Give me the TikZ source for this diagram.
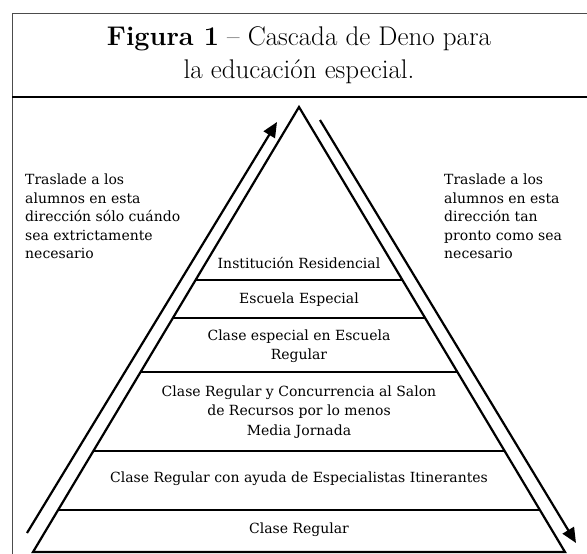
\documentclass[tikz,border=0pt]{standalone}
\usepackage{fontspec}
\newfontfamily\labelfont{DejaVu Serif}
\usetikzlibrary{arrows.meta, calc}

\begin{document}
\begin{tikzpicture}[x=1pt, y=-1pt,
  level/.style={font=\labelfont\fontsize{14}{19.5}\selectfont, align=center, inner sep=0pt},
  side/.style={font=\labelfont\fontsize{14}{18.5}\selectfont, align=left, anchor=north west, inner sep=0pt},
  edge/.style={line width=2.2pt},
  move/.style={line width=2.2pt, -{Triangle[length=15pt, width=13pt]}}]
\useasboundingbox (0,0) rectangle (587,554);

% frame and title
\draw[gray!60!black, line width=1pt] (12,554) -- (12,13) -- (587,13);
\draw[line width=1.4pt] (12,97) -- (587,97);
\node[font=\fontsize{27}{33}\selectfont, align=center, inner sep=0pt] (title) at (299,55)
  {\textbf{Figura 1} -- Cascada de Deno para\\la educación especial.};

% pyramid
\coordinate (apex) at (299,107);
\coordinate (bl) at (33,552);
\coordinate (br) at (565,552);
\draw[edge] (bl) -- (apex) -- (br) -- cycle;
\foreach \t in {0.389, 0.474, 0.596, 0.773, 0.906}
  \draw[edge] ($(apex)!\t!(bl)$) -- ($(apex)!\t!(br)$);

\node[level] (residencial) at (299,263) {Institución Residencial};
\node[level] (escuela) at (299,300) {Escuela Especial};
\node[level] (especial) at (299,346) {Clase especial en Escuela\\Regular};
\node[level] (recursos) at (299,412) {Clase Regular y Concurrencia al Salon\\de Recursos por lo menos\\Media Jornada};
\node[level] (itinerantes) at (299,479) {Clase Regular con ayuda de Especialistas Itinerantes};
\node[level] (regular) at (299,530) {Clase Regular};

% arrows
\coordinate (up_s) at (27,533);
\coordinate (up_e) at (277,122);
\coordinate (down_s) at (320,120);
\coordinate (down_e) at (576,543);
\draw[move] (up_s) -- (up_e);
\draw[move] (down_s) -- (down_e);

\node[side] (up_l) at (25,174) {Traslade a los\\alumnos en esta\\dirección sólo cuándo\\sea extrictamente\\necesario};
\node[side] (down_l) at (444,174) {Traslade a los\\alumnos en esta\\dirección tan\\pronto como sea\\necesario};
\end{tikzpicture}
\end{document}
